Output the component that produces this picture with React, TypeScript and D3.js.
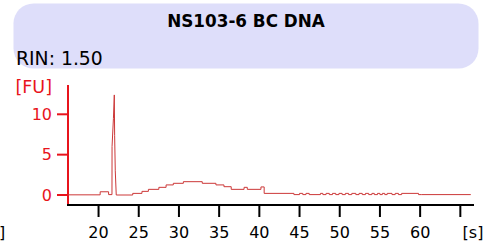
import React from "react";
import * as d3 from "d3";

const title = "NS103-6 BC DNA";
const rinLabel = "RIN: 1.50";
const xTicks = [20, 25, 30, 35, 40, 45, 50, 55, 60, 65];
const xTickLabels = ["20", "25", "30", "35", "40", "45", "50", "55", "60", ""];
const yTicks = [0, 5, 10];

// step portion before the marker peak (value holds until next time)
const preT = [16.2, 20.2, 21.25];
const preFU = [0.02, 0.4, 0.05];
// marker peak (linear)
const peakT = [21.67, 21.68, 21.85, 21.96, 22.0, 22.08, 22.2];
const peakFU = [0.05, 6.0, 9.5, 12.4, 7.4, 3.0, 0.0];
// step portion after the peak
const postT = [
  22.2, 24.25, 25.4, 26.2, 27.5, 28.4, 29.3, 30.55, 32.9, 34.6, 35.6, 36.5, 38.1, 38.5, 40.2, 40.6,
  44.3, 45.0, 45.4, 45.8, 46.2, 47.6, 47.9, 48.3, 48.7, 49.1, 49.5, 49.9, 50.3, 50.7, 51.1, 51.5,
  52.0, 52.4, 52.8, 53.2, 53.6, 54.0, 54.3, 54.7, 55.0, 55.3, 55.6, 55.9, 56.5, 56.9, 57.3, 57.7,
  59.8, 60.2,
];
const postFU = [
  0.0, 0.2, 0.45, 0.7, 0.95, 1.25, 1.45, 1.65, 1.45, 1.25, 1.03, 0.7, 0.95, 0.7, 1.0, 0.2,
  0.05, 0.2, 0.05, 0.2, 0.05, 0.2, 0.05, 0.2, 0.05, 0.2, 0.05, 0.2, 0.05, 0.2, 0.05, 0.2,
  0.05, 0.2, 0.05, 0.2, 0.05, 0.2, 0.05, 0.2, 0.05, 0.2, 0.05, 0.2, 0.05, 0.2, 0.05, 0.2,
  0.05, 0.05,
];
const endT = 66.3;

const FONT = "'DejaVu Sans', sans-serif";

function stepPoints(ts: number[], vs: number[], end: number): [number, number][] {
  const pts: [number, number][] = [];
  ts.forEach((t, i) => {
    const next = i + 1 < ts.length ? ts[i + 1] : end;
    pts.push([t, vs[i]]);
    pts.push([next, vs[i]]);
  });
  return pts;
}

export default function App() {
  const x = d3.scaleLinear().domain([16.2, 66.7]).range([68, 474]);
  const y = d3.scaleLinear().domain([0, 10]).range([195, 114.3]);

  const pts: [number, number][] = [
    ...stepPoints(preT, preFU, peakT[0]),
    ...peakT.map((t, i) => [t, peakFU[i]] as [number, number]),
    ...stepPoints(postT, postFU, endT),
  ];
  const line = d3
    .line<[number, number]>()
    .x((d) => x(d[0]))
    .y((d) => y(d[1]));

  const red = "#e8141c";
  return (
    <svg
      width={499}
      height={248}
      style={{ position: "absolute", left: 0, top: 0, background: "#fff" }}
    >
      <rect x={13.5} y={3.5} width={465} height={65} rx={20} ry={20} fill="#dedefa" />
      <text x={246} y={27} textAnchor="middle" fontFamily={FONT} fontWeight="bold" fontSize={16.8} fill="#000">
        {title}
      </text>
      <text x={16} y={65} fontFamily={FONT} fontSize={18.8} fill="#000">
        {rinLabel}
      </text>

      <text x={52} y={93} textAnchor="end" fontFamily={FONT} fontSize={17.5} fill={red}>
        [FU]
      </text>
      {yTicks.map((t) => (
        <g key={t}>
          <line x1={57} x2={68} y1={y(t)} y2={y(t)} stroke={red} strokeWidth={2} />
          <text x={52} y={y(t)} dy="0.36em" textAnchor="end" fontFamily={FONT} fontSize={16} fill={red}>
            {t}
          </text>
        </g>
      ))}
      <line x1={68} x2={68} y1={85} y2={205} stroke={red} strokeWidth={2} />

      <path d={line(pts) || ""} fill="none" stroke="#cc3838" strokeWidth={1} />

      <line x1={67} x2={474} y1={205} y2={205} stroke="#000" strokeWidth={2} />
      {xTicks.map((t, i) => (
        <g key={t}>
          <line x1={x(t)} x2={x(t)} y1={205} y2={217} stroke="#000" strokeWidth={2} />
          <text x={x(t)} y={238} textAnchor="middle" fontFamily={FONT} fontSize={16} fill="#000">
            {xTickLabels[i]}
          </text>
        </g>
      ))}
      <text x={473} y={238} textAnchor="middle" fontFamily={FONT} fontSize={16} fill="#000">
        [s]
      </text>
      <text x={-1} y={238} fontFamily={FONT} fontSize={16} fill="#000">
        ]
      </text>
    </svg>
  );
}
